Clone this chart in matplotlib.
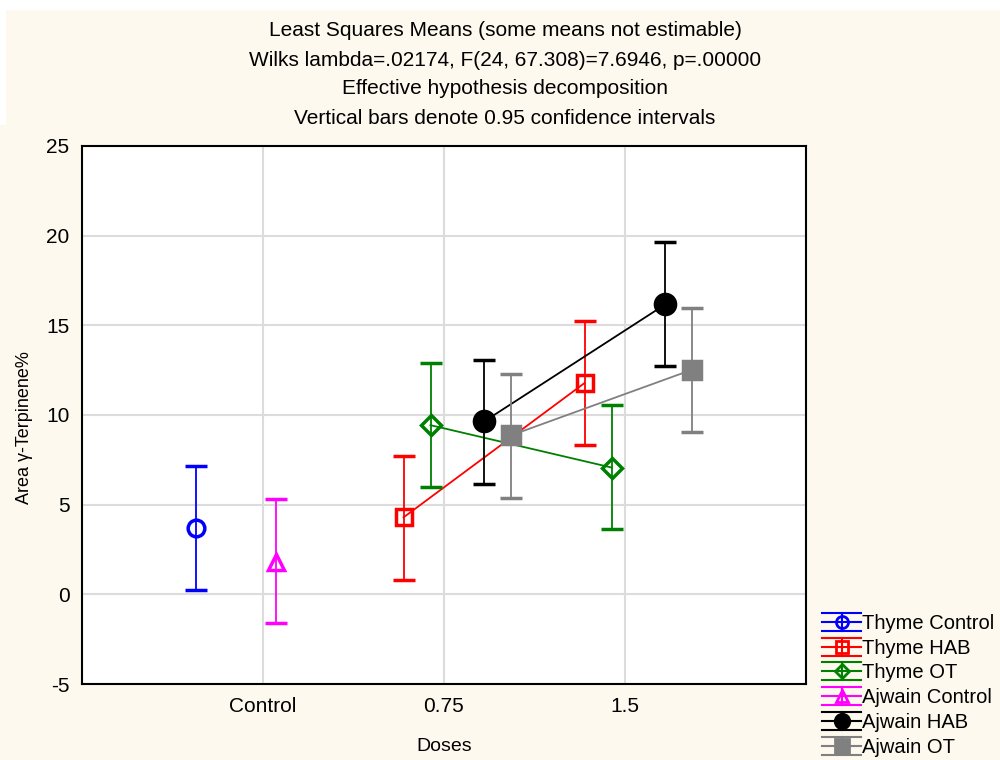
import matplotlib
matplotlib.use('Agg')
import matplotlib.pyplot as plt
from matplotlib.patches import Rectangle
from matplotlib.lines import Line2D
from matplotlib.legend_handler import HandlerBase
import numpy as np

plt.rcParams['font.family'] = ['Liberation Sans', 'DejaVu Sans']
plt.rcParams['axes.unicode_minus'] = False

doses = ['Control', '0.75', '1.5']
series = ['Thyme Control', 'Thyme HAB', 'Thyme OT',
          'Ajwain Control', 'Ajwain HAB', 'Ajwain OT']

# means and 95% CI limits per dose (None = not estimable)
means = {
    'Thyme Control': [3.70, None, None],
    'Thyme HAB': [None, 4.29, 11.78],
    'Thyme OT': [None, 9.43, 7.07],
    'Ajwain Control': [1.80, None, None],
    'Ajwain HAB': [None, 9.65, 16.17],
    'Ajwain OT': [None, 8.87, 12.53],
}
upper = {
    'Thyme Control': [7.14, None, None],
    'Thyme HAB': [None, 7.73, 15.23],
    'Thyme OT': [None, 12.92, 10.54],
    'Ajwain Control': [5.30, None, None],
    'Ajwain HAB': [None, 13.09, 19.63],
    'Ajwain OT': [None, 12.31, 15.99],
}
lower = {
    'Thyme Control': [0.22, None, None],
    'Thyme HAB': [None, 0.82, 8.31],
    'Thyme OT': [None, 5.98, 3.63],
    'Ajwain Control': [-1.60, None, None],
    'Ajwain HAB': [None, 6.17, 12.72],
    'Ajwain OT': [None, 5.39, 9.05],
}

styles = {
    'Thyme Control': dict(color='#0000ff', marker='o', mfc='none', ms=12),
    'Thyme HAB': dict(color='#ff0000', marker='s', mfc='none', ms=11.5),
    'Thyme OT': dict(color='#008000', marker='D', mfc='none', ms=10),
    'Ajwain Control': dict(color='#ff00ff', marker='^', mfc='none', ms=12),
    'Ajwain HAB': dict(color='#000000', marker='o', mfc='#000000', ms=14.5),
    'Ajwain OT': dict(color='#808080', marker='s', mfc='#808080', ms=13.5),
}


class CapHandler(HandlerBase):
    # legend key: wide caps above and below, line + marker in the middle
    def create_artists(self, legend, orig, xd, yd, w, h, fontsize, trans):
        st = styles[orig]
        c = st['color']
        cy = h / 2 - yd
        half = 6.5
        arts = [
            Line2D([-xd, w - xd], [cy + half] * 2, color=c, lw=1.5),
            Line2D([-xd, w - xd], [cy - half] * 2, color=c, lw=1.5),
            Line2D([-xd, w - xd], [cy] * 2, color=c, lw=1.5),
            Line2D([w / 2 - xd] * 2, [cy - half, cy + half], color=c, lw=1.5),
            Line2D([w / 2 - xd], [cy], marker=st['marker'], mfc=st['mfc'],
                   mec=c, ms=st['ms'] * 0.72, mew=2, color=c),
        ]
        for a in arts:
            a.set_transform(trans)
        return arts


fig = plt.figure(figsize=(10, 7.6), dpi=100, facecolor='#fdf9ee')
fig.patches.append(Rectangle((0, 0.987), 1, 0.013, transform=fig.transFigure,
                             facecolor='white', edgecolor='none', zorder=0))
fig.patches.append(Rectangle((0, 0.835), 0.006, 0.165, transform=fig.transFigure,
                             facecolor='white', edgecolor='none', zorder=0))
ax = fig.add_axes([0.082, 0.1, 0.724, 0.708])
ax.set_facecolor('white')

x = np.arange(1, len(doses) + 1)
step = 0.149
for i, name in enumerate(series):
    off = (i - (len(series) - 1) / 2) * step
    m = np.array([np.nan if v is None else v for v in means[name]])
    hi = np.array([np.nan if v is None else v for v in upper[name]])
    lo = np.array([np.nan if v is None else v for v in lower[name]])
    st = styles[name]
    ax.errorbar(x + off, m, yerr=[m - lo, hi - m], color=st['color'],
                marker=st['marker'], mfc=st['mfc'], mec=st['color'],
                ms=st['ms'], mew=2.5, lw=1.3, elinewidth=1.3,
                capsize=8, capthick=1.3, zorder=3 + i)

ax.set_xlim(0, 4)
ax.set_ylim(-5, 25)
ax.set_xticks(x)
ax.set_xticklabels(doses)
ax.set_yticks(np.arange(-5, 26, 5))
ax.grid(True, color='#dcdcdc', lw=1.5, zorder=0)
ax.set_axisbelow(True)
ax.tick_params(axis='both', labelsize=15, length=0, pad=9)
for sp in ax.spines.values():
    sp.set_linewidth(1.5)
    sp.set_color('black')

ax.set_xlabel('Doses', fontsize=14, labelpad=16)
ax.set_ylabel('Area γ-Terpinene%', fontsize=13)
ax.yaxis.set_label_coords(-0.068, 0.476)

titles = ['Least Squares Means (some means not estimable)',
          'Wilks lambda=.02174, F(24, 67.308)=7.6946, p=.00000',
          'Effective hypothesis decomposition',
          'Vertical bars denote 0.95 confidence intervals']
for k, t in enumerate(titles):
    fig.text(0.505, 1 - (31 + 29 * k) / 760, t, ha='center', va='center',
             fontsize=15)

fig.legend(handles=series, labels=series, handler_map={str: CapHandler()},
           loc='upper left', bbox_to_anchor=(0.814, 0.203),
           frameon=False, fontsize=14.5, handlelength=1.95, labelspacing=0.29,
           borderaxespad=0, handletextpad=0.05)

fig.savefig('out.png', dpi=100, facecolor=fig.get_facecolor())
